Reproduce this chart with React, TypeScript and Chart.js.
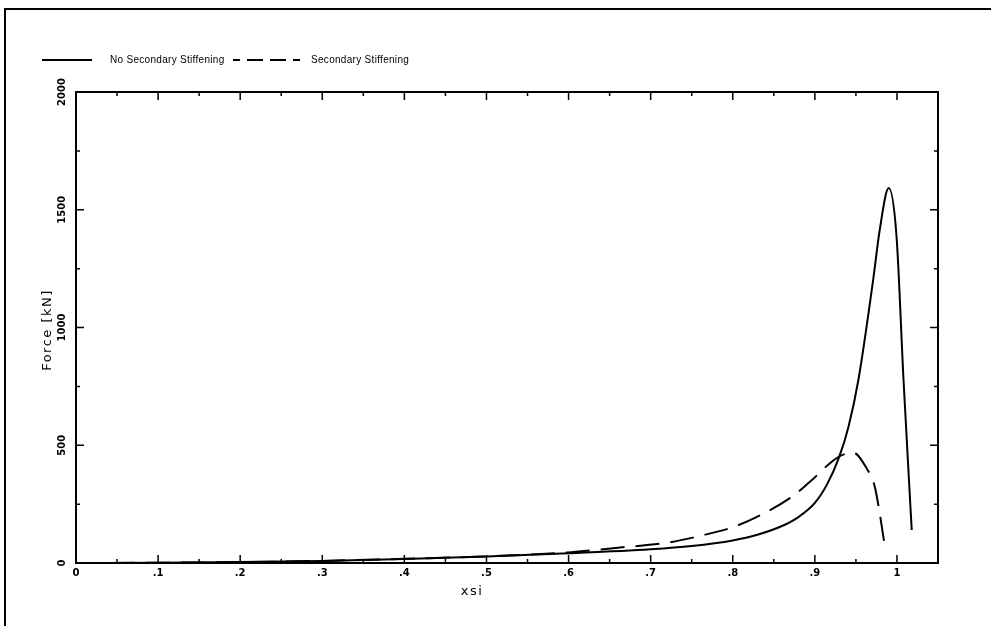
import React, { useEffect, useRef } from "react";
import { Chart, registerables } from "chart.js";

Chart.register(...registerables);

// ---- data ----
const SERIES_NAMES = ["No Secondary Stiffening", "Secondary Stiffening"];

const XSI_NO_SEC = [0, 0.1, 0.2, 0.3, 0.4, 0.5, 0.6, 0.7, 0.75, 0.8, 0.83, 0.86, 0.88, 0.9, 0.915, 0.929, 0.941, 0.953, 0.971, 0.979, 0.99, 0.9995, 1.008, 1.018];
const FORCE_NO_SEC = [0, 1, 4, 9, 17, 28, 41, 58, 72, 96, 120, 157, 195, 255, 335, 444, 579, 777, 1202, 1414, 1592, 1386, 777, 140];

const XSI_SEC = [0, 0.1, 0.2, 0.3, 0.4, 0.5, 0.6, 0.66, 0.72, 0.76, 0.8, 0.834, 0.872, 0.894, 0.929, 0.947, 0.963, 0.973, 0.979, 0.985];
const FORCE_SEC = [0, 1, 4, 9, 18, 28, 45, 65, 86, 115, 152, 204, 281, 345, 451, 468, 402, 324, 211, 76];

const X_TICKS = [0, 0.1, 0.2, 0.3, 0.4, 0.5, 0.6, 0.7, 0.8, 0.9, 1.0];
const X_TICK_LABELS = ["0", ".1", ".2", ".3", ".4", ".5", ".6", ".7", ".8", ".9", "1"];
const Y_TICKS = [0, 500, 1000, 1500, 2000];
const Y_TICK_LABELS = ["0", "500", "1000", "1500", "2000"];
const X_TITLE = "xsi";
const Y_TITLE = "Force [kN]";

const X_MIN = 0;
const X_MAX = 1.05;
const Y_MIN = 0;
const Y_MAX = 2000;

const FONT = '"DejaVu Sans", sans-serif';
const LEGEND_FONT = '"Liberation Sans", Arial, sans-serif';
const DASH = [24, 11];

const framePlugin = {
  id: "framePlugin",
  afterDraw(chart: any) {
    const ctx = chart.ctx as CanvasRenderingContext2D;
    const { left, right, top, bottom } = chart.chartArea;
    const xs = chart.scales.x;
    const ys = chart.scales.y;
    ctx.save();
    ctx.strokeStyle = "#000";
    ctx.fillStyle = "#000";

    // outer page frame
    ctx.lineWidth = 2;
    ctx.beginPath();
    ctx.moveTo(5, 626);
    ctx.lineTo(5, 9);
    ctx.lineTo(991, 9);
    ctx.stroke();

    // plot box
    ctx.lineWidth = 2;
    ctx.strokeRect(left, top, right - left, bottom - top);

    // ticks
    ctx.lineWidth = 1.5;
    const major = 8;
    const minor = 4;
    ctx.beginPath();
    X_TICKS.forEach((v) => {
      const p = xs.getPixelForValue(v);
      ctx.moveTo(p, bottom); ctx.lineTo(p, bottom - major);
      ctx.moveTo(p, top); ctx.lineTo(p, top + major);
      const m = v + 0.05;
      if (m < X_MAX) {
        const q = xs.getPixelForValue(m);
        ctx.moveTo(q, bottom); ctx.lineTo(q, bottom - minor);
        ctx.moveTo(q, top); ctx.lineTo(q, top + minor);
      }
    });
    Y_TICKS.forEach((v) => {
      const p = ys.getPixelForValue(v);
      ctx.moveTo(left, p); ctx.lineTo(left + major, p);
      ctx.moveTo(right, p); ctx.lineTo(right - major, p);
      const m = v + 250;
      if (m < Y_MAX) {
        const q = ys.getPixelForValue(m);
        ctx.moveTo(left, q); ctx.lineTo(left + minor, q);
        ctx.moveTo(right, q); ctx.lineTo(right - minor, q);
      }
    });
    ctx.stroke();

    // tick labels
    ctx.font = `bold 10px ${FONT}`;
    ctx.textAlign = "center";
    ctx.textBaseline = "top";
    X_TICKS.forEach((v, i) => {
      ctx.fillText(X_TICK_LABELS[i], xs.getPixelForValue(v), bottom + 5);
    });
    Y_TICKS.forEach((v, i) => {
      ctx.save();
      ctx.translate(left - 14, ys.getPixelForValue(v));
      ctx.rotate(-Math.PI / 2);
      ctx.textBaseline = "middle";
      ctx.fillText(Y_TICK_LABELS[i], 0, 0);
      ctx.restore();
    });

    // axis titles
    ctx.font = `13px ${FONT}`;
    (ctx as any).letterSpacing = "1.5px";
    ctx.textBaseline = "middle";
    ctx.fillText(X_TITLE, 472, 592);
    ctx.save();
    ctx.translate(48, 330);
    ctx.rotate(-Math.PI / 2);
    ctx.fillText(Y_TITLE, 0, 0);
    ctx.restore();

    // legend
    (ctx as any).letterSpacing = "0.3px";
    ctx.font = `10px ${LEGEND_FONT}`;
    ctx.textAlign = "left";
    ctx.lineWidth = 2;
    const ly = 60;
    ctx.beginPath();
    ctx.moveTo(42, ly); ctx.lineTo(92, ly);
    ctx.stroke();
    ctx.fillText(SERIES_NAMES[0], 110, ly);
    ctx.setLineDash([7, 7, 16, 7, 16, 7, 7]);
    ctx.beginPath();
    ctx.moveTo(233, ly); ctx.lineTo(300, ly);
    ctx.stroke();
    ctx.setLineDash([]);
    ctx.fillText(SERIES_NAMES[1], 311, ly);
    ctx.restore();
  },
};

export default function App() {
  const ref = useRef<HTMLCanvasElement | null>(null);
  useEffect(() => {
    if (!ref.current) return;
    const chart = new Chart(ref.current, {
      type: "line",
      data: {
        datasets: [
          {
            label: SERIES_NAMES[0],
            data: XSI_NO_SEC.map((x, i) => ({ x, y: FORCE_NO_SEC[i] })),
            borderColor: "#000",
            borderWidth: 2,
            pointRadius: 0,
            cubicInterpolationMode: "monotone",
            fill: false,
          },
          {
            label: SERIES_NAMES[1],
            data: XSI_SEC.map((x, i) => ({ x, y: FORCE_SEC[i] })),
            borderColor: "#000",
            borderWidth: 2,
            borderDash: DASH,
            pointRadius: 0,
            cubicInterpolationMode: "monotone",
            fill: false,
          },
        ],
      },
      options: {
        responsive: false,
        animation: false,
        layout: { padding: { left: 0, right: 53, top: 92, bottom: 0 } },
        plugins: { legend: { display: false }, tooltip: { enabled: false } },
        scales: {
          x: {
            type: "linear",
            min: X_MIN,
            max: X_MAX,
            ticks: { display: false },
            grid: { display: false },
            border: { display: false },
            afterFit: (s: any) => { s.height = 63; },
          },
          y: {
            type: "linear",
            min: Y_MIN,
            max: Y_MAX,
            ticks: { display: false },
            grid: { display: false },
            border: { display: false },
            afterFit: (s: any) => { s.width = 76; },
          },
        },
      },
      plugins: [framePlugin],
    });
    return () => chart.destroy();
  }, []);
  return (
    <div style={{ position: "fixed", left: 0, top: 0, width: 991, height: 626, background: "#fff" }}>
      <canvas ref={ref} width={991} height={626} />
    </div>
  );
}
